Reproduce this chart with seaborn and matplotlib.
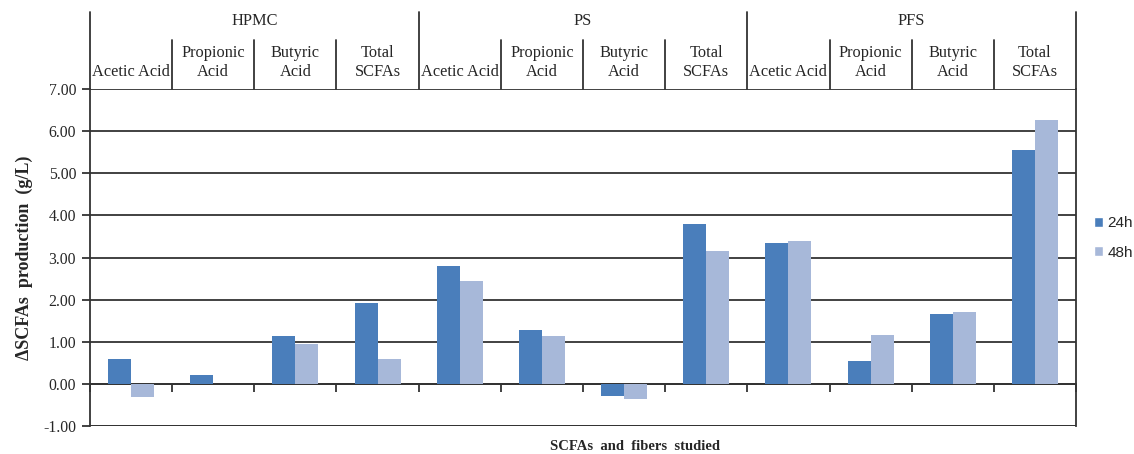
import matplotlib
matplotlib.use("Agg")
import matplotlib.pyplot as plt
import matplotlib.transforms as mtransforms
from matplotlib.patches import Patch
import seaborn as sns
import pandas as pd

groups = ["HPMC", "PS", "PFS"]
subcats = ["Acetic Acid", "Propionic\nAcid", "Butyric\nAcid", "Total\nSCFAs"]
times = ["24h", "48h"]
vals_24h = [0.60, 0.22, 1.13, 1.92, 2.80, 1.28, -0.28, 3.80, 3.35, 0.55, 1.66, 5.56]
vals_48h = [-0.30, 0.00, 0.95, 0.60, 2.45, 1.13, -0.37, 3.16, 3.40, 1.15, 1.71, 6.27]
yticks = [-1, 0, 1, 2, 3, 4, 5, 6, 7]

keys = [f"{g}|{s}" for g in groups for s in subcats]
df = pd.DataFrame({
    "cat": keys * 2,
    "time": [times[0]] * len(keys) + [times[1]] * len(keys),
    "value": vals_24h + vals_48h,
})

sns.set_style("white")
plt.rcParams["font.family"] = ["Liberation Serif", "DejaVu Serif"]

fig = plt.figure(figsize=(11.34, 4.54), dpi=100)
ax = fig.add_axes([90 / 1134, 28 / 454, 986 / 1134, 337 / 454])

c24, c48 = "#4a7ebb", "#a7b8d9"
sns.barplot(data=df, x="cat", y="value", hue="time", order=keys, hue_order=times,
            palette=[c24, c48], width=0.56, gap=0, ax=ax, legend=False,
            saturation=1, linewidth=0, zorder=3)

ax.set_xlim(-0.5, len(keys) - 0.5)
ax.set_ylim(-1, 7)
ax.set_yticks(yticks)
ax.set_yticklabels([f"{v:.2f}" for v in yticks], fontsize=11.3)
lc = "#333333"
ax.yaxis.grid(True, color=lc, linewidth=1.3, zorder=1)
ax.xaxis.grid(False)

# x ticks at category boundaries on the zero line
bounds = [i - 0.5 for i in range(len(keys) + 1)]
ax.set_xticks(bounds)
ax.set_xticklabels([""] * len(bounds))
ax.spines["bottom"].set_position(("data", 0))
for s in ["bottom", "left", "right"]:
    ax.spines[s].set_color(lc)
    ax.spines[s].set_linewidth(1.3)
ax.spines["top"].set_visible(False)
ax.tick_params(axis="x", direction="out", length=6, width=1.3, color=lc, bottom=True)
ax.tick_params(axis="y", direction="out", length=6, width=1.3, color=lc, left=True, pad=4)
ax.set_xlabel("")
ax.set_ylabel("ΔSCFAs  production  (g/L)", fontsize=13, fontweight="bold", labelpad=7)

# bottom frame line at -1
ax.axhline(-1, color=lc, linewidth=1.3, zorder=2)

# header table above axes
trans = mtransforms.blended_transform_factory(ax.transData, ax.transAxes)
h = 337.0
y_top = 1 + 77 / h
y_sub = 1 + 49 / h
n_sub = len(subcats)
for gi, g in enumerate(groups):
    left = gi * n_sub - 0.5
    ax.plot([left, left], [1, y_top], transform=trans, color=lc, lw=1.3, clip_on=False)
    ax.text(left + n_sub / 2, 1 + 68 / h, g, transform=trans, ha="center", va="center",
            fontsize=11.8)
    for si, s in enumerate(subcats):
        x0 = gi * n_sub + si - 0.5
        if si > 0:
            ax.plot([x0, x0], [1, y_sub], transform=trans, color=lc, lw=1.3, clip_on=False)
        ax.text(x0 + 0.5, 1 + 9 / h, s, transform=trans, ha="center", va="bottom",
                fontsize=11.8, linespacing=1.25)
right = len(keys) - 0.5
ax.plot([right, right], [1, y_top], transform=trans, color=lc, lw=1.3, clip_on=False)

fig.text(635 / 1134, 1 - 446 / 454, "SCFAs  and  fibers  studied", ha="center", va="center",
         fontsize=10.5, fontweight="bold")

handles = [Patch(facecolor=c24, label="24h"), Patch(facecolor=c48, label="48h")]
fig.legend(handles=handles, loc="center left", bbox_to_anchor=(1080 / 1134, 1 - 238 / 454),
           frameon=False, handlelength=0.6, handleheight=0.6,
           handletextpad=0.3, labelspacing=1.0, prop={"family": "Liberation Sans", "size": 11})

fig.savefig("out.png", dpi=100)
